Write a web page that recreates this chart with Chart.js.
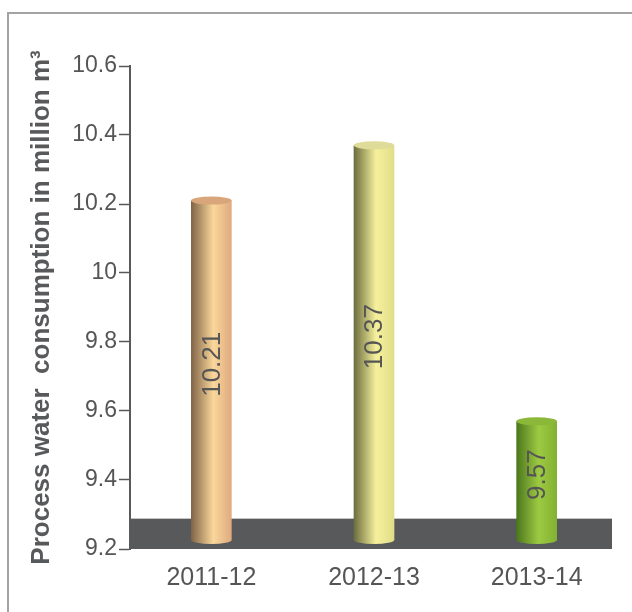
<!DOCTYPE html>
<html>
<head>
<meta charset="utf-8">
<script src="https://cdn.jsdelivr.net/npm/chart.js@4"></script>
<style>
  html, body { margin: 0; padding: 0; background: #fff; }
  #wrap { width: 632px; height: 612px; }
</style>
</head>
<body>
<div id="wrap"><canvas id="chart" width="632" height="612"></canvas></div>
<script>
// data
const years = ['2011-12', '2012-13', '2013-14'];
const consumption = [10.21, 10.37, 9.57];
const yTicks = [9.2, 9.4, 9.6, 9.8, 10, 10.2, 10.4, 10.6];

// colours for each cylinder: dark edge, highlight, right side, top cap
const barShades = [
  ['#7f6346', '#fad79a', '#dfa97f', '#d9a67c'],
  ['#6a6c3e', '#f6f09c', '#e0de88', '#dedc98'],
  ['#4b761c', '#9dca42', '#82b133', '#8cb83a'],
];

const FLOOR_TOP = 9.288;
const BAR_BOTTOM = 9.226;
const GREY = '#58595b';
const FONT = '"Liberation Sans", Arial, sans-serif';

// frame around the figure
const framePlugin = {
  id: 'frame',
  beforeDraw(chart) {
    const ctx = chart.ctx;
    ctx.save();
    ctx.strokeStyle = '#a3a3a3';
    ctx.lineWidth = 2;
    ctx.beginPath();
    ctx.moveTo(8, 612);
    ctx.lineTo(8, 13);
    ctx.lineTo(632, 13);
    ctx.stroke();
    ctx.restore();
  }
};

// dark floor slab under the bars
const floorPlugin = {
  id: 'floor',
  beforeDatasetsDraw(chart) {
    const { ctx, chartArea, scales } = chart;
    const top = scales.y.getPixelForValue(FLOOR_TOP);
    const bottom = scales.y.getPixelForValue(9.2);
    ctx.save();
    ctx.fillStyle = GREY;
    ctx.fillRect(chartArea.left, top, chartArea.right - 6 - chartArea.left, bottom - top);
    ctx.restore();
  }
};

// draw each bar as a shaded cylinder with its value inside
const cylinderPlugin = {
  id: 'cylinder',
  afterDatasetsDraw(chart) {
    const { ctx, scales } = chart;
    const meta = chart.getDatasetMeta(0);
    const bottom = scales.y.getPixelForValue(BAR_BOTTOM);
    meta.data.forEach((bar, i) => {
      const shade = barShades[i];
      const w = bar.width;
      const x0 = bar.x - w / 2;
      const x1 = bar.x + w / 2;
      const top = bar.y;
      const ry = 4;
      const grad = ctx.createLinearGradient(x0, 0, x1, 0);
      grad.addColorStop(0, shade[0]);
      grad.addColorStop(0.55, shade[1]);
      grad.addColorStop(1, shade[2]);
      ctx.save();
      ctx.fillStyle = grad;
      ctx.beginPath();
      ctx.moveTo(x0, top);
      ctx.lineTo(x0, bottom);
      ctx.ellipse(bar.x, bottom, w / 2, ry, 0, Math.PI, 0, true);
      ctx.lineTo(x1, top);
      ctx.closePath();
      ctx.fill();
      // top cap
      ctx.fillStyle = shade[3];
      ctx.beginPath();
      ctx.ellipse(bar.x, top, w / 2, ry, 0, 0, Math.PI * 2);
      ctx.fill();
      // value label
      ctx.translate(bar.x + 1, (top + bottom) / 2 - 6);
      ctx.rotate(-Math.PI / 2);
      ctx.fillStyle = '#555';
      ctx.font = '26px ' + FONT;
      ctx.textAlign = 'center';
      ctx.textBaseline = 'middle';
      ctx.fillText(String(consumption[i]), 0, 0);
      ctx.restore();
    });
  }
};

new Chart(document.getElementById('chart'), {
  type: 'bar',
  data: {
    labels: years,
    datasets: [{
      data: consumption,
      backgroundColor: 'rgba(0,0,0,0)',
      borderWidth: 0,
      categoryPercentage: 1,
      barPercentage: 0.25,
    }]
  },
  options: {
    responsive: false,
    animation: false,
    layout: { padding: { top: 66, right: 14, bottom: 5, left: 26 } },
    plugins: {
      legend: { display: false },
      tooltip: { enabled: false },
    },
    scales: {
      x: {
        grid: { display: false, drawTicks: false },
        border: { display: false },
        ticks: {
          color: '#555',
          padding: 14,
          font: { family: FONT, size: 25 },
        },
      },
      y: {
        min: 9.2,
        max: 10.6,
        afterBuildTicks(axis) {
          axis.ticks = yTicks.map(v => ({ value: v }));
        },
        afterFit(axis) { axis.width = 104; },
        border: { display: true, color: GREY, width: 2 },
        grid: { drawOnChartArea: false, tickLength: 11, color: GREY, tickWidth: 1.5 },
        ticks: {
          color: '#555',
          padding: 2,
          font: { family: FONT, size: 23 },
          callback: v => String(Math.round(v * 10) / 10),
        },
        title: {
          display: true,
          text: 'Process water  consumption in million m³',
          color: GREY,
          padding: { top: 0, bottom: 4 },
          font: { family: FONT, size: 26, weight: 'bold' },
        },
      },
    },
  },
  plugins: [framePlugin, floorPlugin, cylinderPlugin],
});
</script>
</body>
</html>
